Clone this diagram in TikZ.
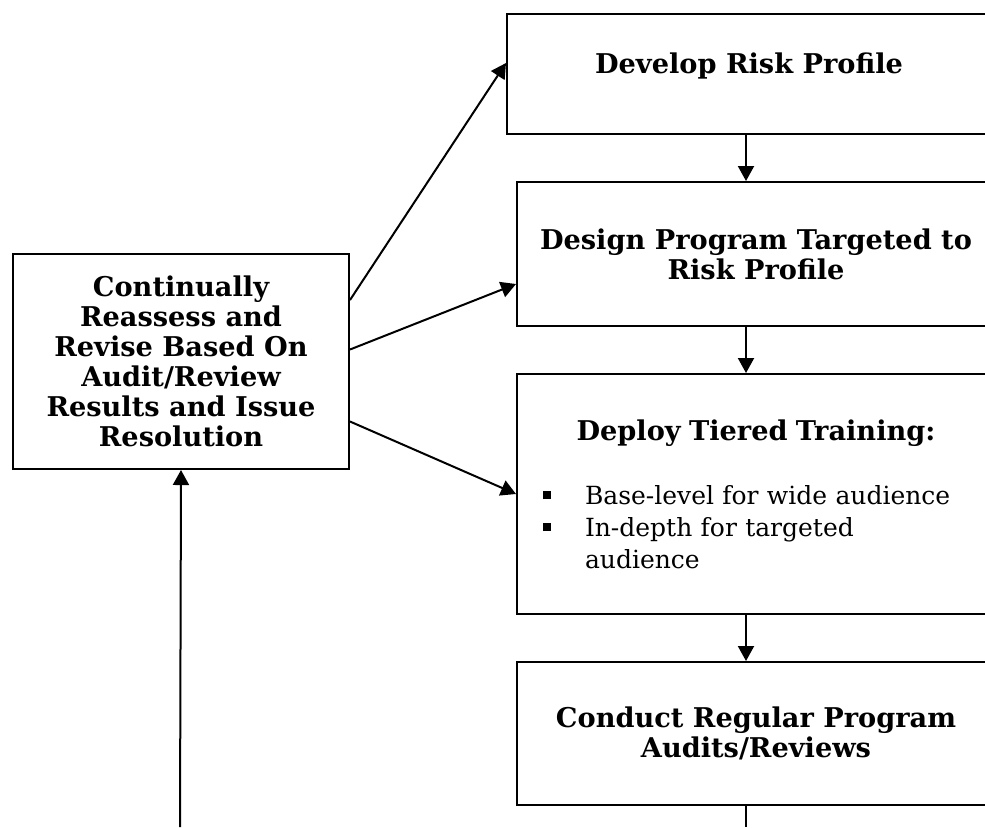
\documentclass[tikz,border=0pt]{standalone}
\usepackage{fontspec}
\setmainfont{DejaVu Serif}
\usetikzlibrary{arrows.meta, positioning, calc}
\tikzset{
  stage/.style={rectangle, draw=black, line width=1pt, fill=white, anchor=north west,
                minimum width=239pt, minimum height=72pt, inner sep=0pt,
                align=center, font=\fontsize{13.6}{15}\selectfont\bfseries},
  loopbox/.style={rectangle, draw=black, line width=1pt, fill=white, anchor=north west,
                  minimum width=168pt, minimum height=107.5pt, inner sep=0pt,
                  align=center, font=\fontsize{13.6}{15}\selectfont\bfseries},
  flow/.style={-{Triangle[length=7.5pt,width=8pt]}, draw=black, line width=1pt},
  plain/.style={draw=black, line width=1pt},
}
\newcommand{\tierbullet}[1]{\noindent
  \makebox[21pt][l]{\raisebox{2.5pt}{\rule{4pt}{4pt}}}%
  \parbox[t]{190pt}{\raggedright #1}\par}

\begin{document}
\begin{tikzpicture}[x=0.5pt, y=-0.5pt]
  \clip (0,0) rectangle (985,827);

  % process steps, right column (cut off at the page edge)
  \node[stage, minimum width=242pt, minimum height=60pt, text depth=11pt] (risk) at (506,13)
    {Develop Risk Profile};
  \node[stage] (design) at (516,181)
    {Design Program Targeted to\\Risk Profile};
  \node[stage, minimum height=120pt, text width=213pt, inner xsep=13pt, align=left,
        font=\fontsize{12.5}{16}\selectfont] (train) at (516,373)
    {{\centering\fontsize{13.6}{15}\selectfont\bfseries Deploy Tiered Training:\par}
     \vspace{16pt}
     \tierbullet{Base-level for wide audience}
     \tierbullet{In-depth for targeted\\audience}};
  \node[stage, minimum height=71.5pt] (audit) at (516,661)
    {Conduct Regular Program\\Audits/Reviews};

  % feedback step
  \node[loopbox] (revise) at (12,253)
    {Continually\\Reassess and\\Revise Based On\\Audit/Review\\Results and Issue\\Resolution};

  \coordinate (spine) at (746,0);
  \coordinate (footL) at (180,827);
  \coordinate (footR) at (746,827);

  \draw[flow] (risk.south -| spine) -- (design.north -| spine);
  \draw[flow] (design.south -| spine) -- (train.north -| spine);
  \draw[flow] (train.south -| spine) -- (audit.north -| spine);
  \draw[plain] (audit.south -| spine) -- (footR);

  \draw[flow] (footL) -- (revise.south);
  \draw[flow] ([yshift=-23.5pt]revise.north east) -- ([yshift=5.5pt]risk.west);
  \draw[flow] ([yshift=6pt]revise.east) -- ([yshift=-15pt]design.west);
  \draw[flow] ([yshift=-30pt]revise.east) -- (train.west);
\end{tikzpicture}
\end{document}
